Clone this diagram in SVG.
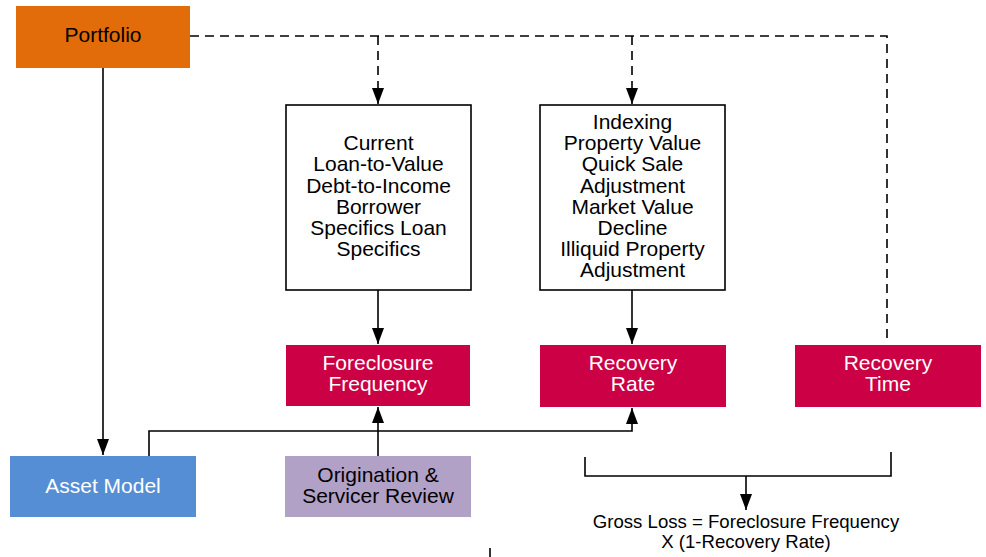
<svg xmlns="http://www.w3.org/2000/svg" width="986" height="557" viewBox="0 0 986 557">
  <style>
    text { font-family: "Liberation Sans", Arial, sans-serif; font-size: 21px; text-anchor: middle; }
    .dark { fill: #000; }
    .light { fill: #fff; }
    .line { fill: none; stroke: #000; stroke-width: 1.6; }
    .dash { stroke-dasharray: 9 6; }
    .outline { fill: #fff; stroke: #000; stroke-width: 1.6; }
    .small { font-size: 18.6px; }
  </style>
  <defs>
    <marker id="arrow" viewBox="0 0 16 12" refX="16" refY="6" markerWidth="16" markerHeight="12" markerUnits="userSpaceOnUse" orient="auto">
      <path d="M0,0 L16,6 L0,12 Z" fill="#000"/>
    </marker>
  </defs>

  <rect width="986" height="557" fill="#fff"/>

  <g id="connectors">
    <!-- dashed feed from Portfolio -->
    <path class="line dash" d="M190,36 H887 V338"/>
    <path class="line dash" d="M378,36 V104" marker-end="url(#arrow)"/>
    <path class="line dash" d="M632,36 V104" marker-end="url(#arrow)"/>
    <!-- Portfolio to Asset Model -->
    <path class="line" d="M103,68 V455" marker-end="url(#arrow)"/>
    <!-- factor boxes to outputs -->
    <path class="line" d="M378,290 V344" marker-end="url(#arrow)"/>
    <path class="line" d="M632,290 V344" marker-end="url(#arrow)"/>
    <!-- Asset Model to Recovery Rate -->
    <path class="line" d="M149,456 V431 H632 V408" marker-end="url(#arrow)"/>
    <!-- Origination review to Foreclosure Frequency -->
    <path class="line" d="M378,456 V407" marker-end="url(#arrow)"/>
    <!-- bracket to Gross Loss -->
    <path class="line" d="M585,457 V476 H891 V452"/>
    <path class="line" d="M746,476 V510" marker-end="url(#arrow)"/>
    <path class="line" d="M490,548 V557"/>
  </g>

  <g id="portfolio">
    <rect x="16" y="6" width="174" height="62" fill="#E36C0A"/>
    <text class="dark" x="103" y="42">Portfolio</text>
  </g>

  <g id="borrower-factors">
    <rect class="outline" x="286" y="105" width="185" height="185"/>
    <text class="dark" x="378.5" y="150">Current</text>
    <text class="dark" x="378.5" y="171">Loan-to-Value</text>
    <text class="dark" x="378.5" y="193">Debt-to-Income</text>
    <text class="dark" x="378.5" y="214">Borrower</text>
    <text class="dark" x="378.5" y="235">Specifics Loan</text>
    <text class="dark" x="378.5" y="256">Specifics</text>
  </g>

  <g id="property-factors">
    <rect class="outline" x="540" y="105" width="185" height="185"/>
    <text class="dark" x="632.5" y="129">Indexing</text>
    <text class="dark" x="632.5" y="150">Property Value</text>
    <text class="dark" x="632.5" y="171">Quick Sale</text>
    <text class="dark" x="632.5" y="193">Adjustment</text>
    <text class="dark" x="632.5" y="214">Market Value</text>
    <text class="dark" x="632.5" y="235">Decline</text>
    <text class="dark" x="632.5" y="256">Illiquid Property</text>
    <text class="dark" x="632.5" y="277">Adjustment</text>
  </g>

  <g id="foreclosure-frequency">
    <rect x="286" y="345" width="184" height="61" fill="#CC0044"/>
    <text class="light" x="378" y="370">Foreclosure</text>
    <text class="light" x="378" y="391">Frequency</text>
  </g>

  <g id="recovery-rate">
    <rect x="540" y="345" width="186" height="62" fill="#CC0044"/>
    <text class="light" x="633" y="370">Recovery</text>
    <text class="light" x="633" y="391">Rate</text>
  </g>

  <g id="recovery-time">
    <rect x="795" y="345" width="186" height="62" fill="#CC0044"/>
    <text class="light" x="888" y="370">Recovery</text>
    <text class="light" x="888" y="391">Time</text>
  </g>

  <g id="asset-model">
    <rect x="10" y="456" width="186" height="61" fill="#558ED5"/>
    <text class="light" x="103" y="493">Asset Model</text>
  </g>

  <g id="origination-review">
    <rect x="285" y="456" width="186" height="61" fill="#B2A1C7"/>
    <text class="dark" x="378" y="482">Origination &amp;</text>
    <text class="dark" x="378" y="503">Servicer Review</text>
  </g>

  <g id="gross-loss">
    <text class="dark small" x="746" y="528">Gross Loss = Foreclosure Frequency</text>
    <text class="dark small" x="746" y="548">X (1-Recovery Rate)</text>
  </g>
</svg>
